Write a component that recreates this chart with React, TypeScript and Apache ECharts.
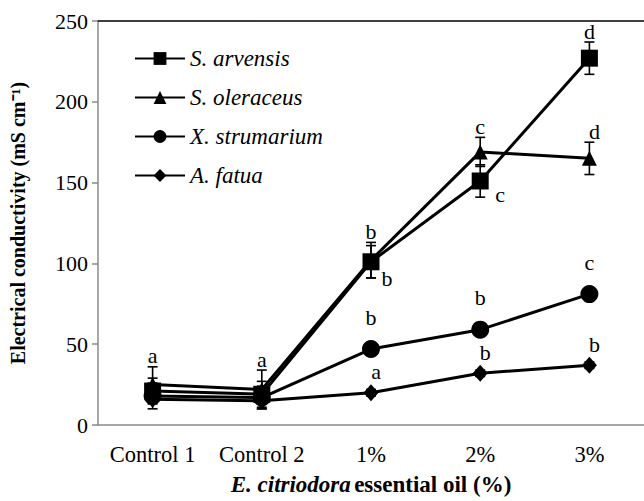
import React, { useEffect, useRef } from "react";
import * as echarts from "echarts";

const categories = ["Control 1", "Control 2", "1%", "2%", "3%"];

const arvensis = [21, 19, 101, 151, 227];
const arvensisErr = [8, 8, 10, 10, 10];
const oleraceus = [25, 22, 102, 169, 165];
const oleraceusErr = [11, 12, 11, 9, 10];
const strumarium = [18, 17, 47, 59, 81];
const strumariumErr = [8, 7, 2, 2, 2];
const fatua = [16, 15, 20, 32, 37];
const fatuaErr = [2, 2, 2, 2, 2];

const arvensisLetters = ["", "", "b", "c", "d"];
const oleraceusLetters = ["a", "a", "b", "c", "d"];
const strumariumLetters = ["", "", "b", "b", "c"];
const fatuaLetters = ["", "", "a", "b", "b"];

const FONT = "Liberation Serif";
const AXIS_GRAY = "#8a8a8a";

type Sp = {
  name: string;
  values: number[];
  errs: number[];
  letters: string[];
  symbol: string;
  symbolSize: number | number[];
  place: { anchor: "err" | "pt"; dx: number; dy: number }[];
};

const species: Sp[] = [
  {
    name: "S. arvensis",
    values: arvensis,
    errs: arvensisErr,
    letters: arvensisLetters,
    symbol: "rect",
    symbolSize: 17,
    place: [
      { anchor: "pt", dx: 0, dy: 0 },
      { anchor: "pt", dx: 0, dy: 0 },
      { anchor: "pt", dx: 16, dy: 28 },
      { anchor: "pt", dx: 20, dy: 25 },
      { anchor: "err", dx: 0, dy: 0 },
    ],
  },
  {
    name: "S. oleraceus",
    values: oleraceus,
    errs: oleraceusErr,
    letters: oleraceusLetters,
    symbol: "triangle",
    symbolSize: 15,
    place: [
      { anchor: "err", dx: 0, dy: 0 },
      { anchor: "err", dx: 0, dy: 0 },
      { anchor: "err", dx: 0, dy: 0 },
      { anchor: "err", dx: 0, dy: 0 },
      { anchor: "err", dx: 5, dy: 0 },
    ],
  },
  {
    name: "X. strumarium",
    values: strumarium,
    errs: strumariumErr,
    letters: strumariumLetters,
    symbol: "circle",
    symbolSize: 18,
    place: [0, 1, 2, 3, 4].map(() => ({ anchor: "pt" as const, dx: 0, dy: -21 })),
  },
  {
    name: "A. fatua",
    values: fatua,
    errs: fatuaErr,
    letters: fatuaLetters,
    symbol: "diamond",
    symbolSize: [15, 17],
    place: [0, 1, 2, 3, 4].map(() => ({ anchor: "pt" as const, dx: 5, dy: -10 })),
  },
];

export default function App() {
  const ref = useRef<HTMLDivElement>(null);
  useEffect(() => {
    if (!ref.current) return;
    const chart = echarts.init(ref.current, null, { renderer: "svg" });

    const lineSeries = species.map((s) => ({
      name: s.name,
      type: "line",
      data: s.values,
      symbol: s.symbol,
      symbolSize: s.symbolSize,
      showAllSymbol: true,
      lineStyle: { color: "#000", width: 3 },
      itemStyle: { color: "#000" },
      z: 3,
    }));

    const errData: number[][] = [];
    species.forEach((s) => {
      s.values.forEach((v, i) => {
        errData.push([i, v - s.errs[i], v + s.errs[i]]);
      });
    });

    const errSeries = {
      type: "custom",
      data: errData,
      encode: { x: 0, y: [1, 2] },
      z: 4,
      silent: true,
      renderItem: (params: any, api: any) => {
        const x = api.value(0);
        const lo = api.coord([x, api.value(1)]);
        const hi = api.coord([x, api.value(2)]);
        const hw = 5;
        const style = { stroke: "#000", lineWidth: 1.6 };
        return {
          type: "group",
          children: [
            { type: "line", shape: { x1: lo[0], y1: lo[1], x2: hi[0], y2: hi[1] }, style },
            { type: "line", shape: { x1: lo[0] - hw, y1: lo[1], x2: lo[0] + hw, y2: lo[1] }, style },
            { type: "line", shape: { x1: hi[0] - hw, y1: hi[1], x2: hi[0] + hw, y2: hi[1] }, style },
          ],
        };
      },
    };

    const letterItems: { cat: number; value: number; dx: number; dy: number; text: string }[] = [];
    species.forEach((s) => {
      s.letters.forEach((t, i) => {
        if (!t) return;
        const p = s.place[i];
        letterItems.push({
          cat: i,
          value: p.anchor === "err" ? s.values[i] + s.errs[i] : s.values[i],
          dx: p.dx,
          dy: p.dy,
          text: t,
        });
      });
    });

    const letterSeries = {
      type: "custom",
      data: letterItems.map((l) => [l.cat, l.value]),
      encode: { x: 0, y: 1 },
      z: 6,
      silent: true,
      clip: false,
      renderItem: (params: any, api: any) => {
        const item = letterItems[params.dataIndex];
        const c = api.coord([api.value(0), api.value(1)]);
        return {
          type: "text",
          x: c[0] + item.dx,
          y: c[1] + item.dy,
          style: {
            text: item.text,
            fontFamily: FONT,
            fontSize: 22,
            fill: "#000",
            align: "center",
            verticalAlign: "bottom",
          },
        };
      },
    };

    chart.setOption({
      animation: false,
      grid: { left: 96, top: 21, width: 550, height: 408 },
      legend: {
        data: species.map((s) => s.name),
        orient: "vertical",
        left: 129,
        top: 42,
        itemWidth: 50,
        itemHeight: 16,
        itemGap: 16,
        textStyle: { fontFamily: FONT, fontSize: 23, fontStyle: "italic", color: "#000" },
      },
      xAxis: [
        {
          type: "category",
          data: categories,
          boundaryGap: true,
          axisLine: { lineStyle: { color: AXIS_GRAY, width: 1.5 } },
          axisTick: { inside: true, length: 6, lineStyle: { color: AXIS_GRAY, width: 1.5 } },
          axisLabel: { interval: 0, fontFamily: FONT, fontSize: 22.5, color: "#000", margin: 18 },
          name: "{i|E. citriodora} {b|essential oil (%)}",
          nameLocation: "middle",
          nameGap: 48,
          nameTextStyle: {
            rich: {
              i: { fontFamily: FONT, fontSize: 23, fontWeight: "bold", fontStyle: "italic", color: "#000" },
              b: { fontFamily: FONT, fontSize: 23, fontWeight: "bold", color: "#000" },
            },
          },
        },
        {
          type: "category",
          data: categories,
          position: "top",
          axisLine: { show: true, lineStyle: { color: "#000", width: 1.5 } },
          axisTick: { show: false },
          axisLabel: { show: false },
        },
      ],
      yAxis: {
        type: "value",
        min: 0,
        max: 250,
        interval: 50,
        axisLine: { show: true, lineStyle: { color: AXIS_GRAY, width: 1.5 } },
        axisTick: { show: true, length: 6, lineStyle: { color: AXIS_GRAY, width: 1.5 } },
        splitLine: { show: false },
        axisLabel: { fontFamily: FONT, fontSize: 22, color: "#000", margin: 10 },
        name: "Electrical conductivity (mS cm\u207B\u00B9)",
        nameLocation: "middle",
        nameGap: 70,
        nameTextStyle: { fontFamily: FONT, fontSize: 20, fontWeight: "bold", color: "#000" },
      },
      series: [...lineSeries, errSeries, letterSeries],
    });

    return () => chart.dispose();
  }, []);

  return <div ref={ref} style={{ width: 644, height: 501, position: "absolute", left: 0, top: 0 }} />;
}
